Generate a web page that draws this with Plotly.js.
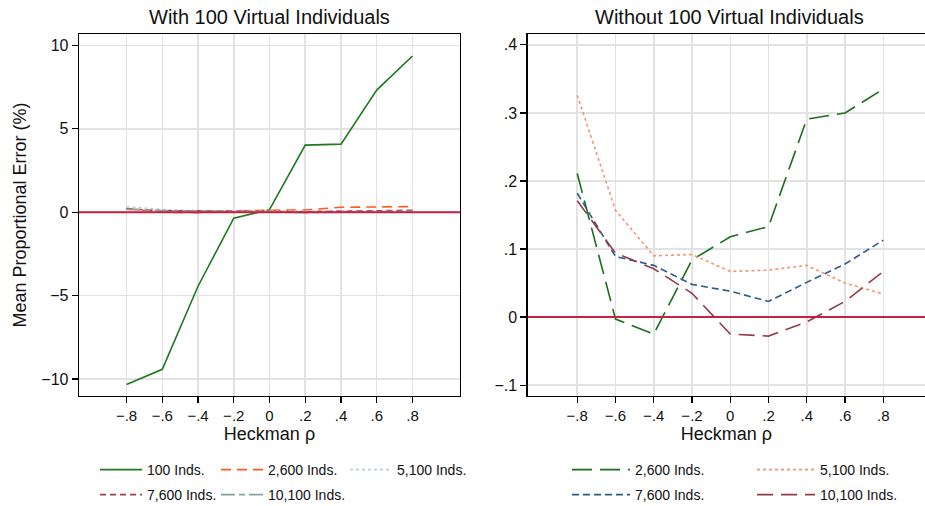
<!DOCTYPE html>
<html>
<head>
<meta charset="utf-8">
<script src="https://cdn.plot.ly/plotly-3.0.1.min.js"></script>
<style>html,body{margin:0;padding:0;background:#fff;}#chart{width:925px;height:506px;}</style>
</head>
<body>
<div id="chart"></div>
<script>
// Heckman rho values (x axis)
const rho = [-0.8, -0.6, -0.4, -0.2, 0, 0.2, 0.4, 0.6, 0.8];
const xTickVals = [-0.8, -0.6, -0.4, -0.2, 0, 0.2, 0.4, 0.6, 0.8];
const xTickText = ['\u2212.8', '\u2212.6', '\u2212.4', '\u2212.2', '0', '.2', '.4', '.6', '.8'];

// Mean proportional error (%) by sample size
const inds100   = [-10.33, -9.42, -4.44, -0.36, 0.15, 4.02, 4.08, 7.32, 9.36];
const inds2600  = [0.211, -0.003, -0.025, 0.084, 0.118, 0.133, 0.291, 0.300, 0.335];
const inds5100  = [0.326, 0.157, 0.090, 0.092, 0.067, 0.069, 0.076, 0.050, 0.034];
const inds7600  = [0.182, 0.089, 0.076, 0.048, 0.038, 0.023, 0.051, 0.078, 0.113];
const inds10100 = [0.171, 0.094, 0.071, 0.035, -0.025, -0.028, -0.007, 0.023, 0.067];

const leftYTickVals = [-10, -5, 0, 5, 10];
const leftYTickText = ['\u221210', '\u22125', '0', '5', '10'];
const rightYTickVals = [-0.1, 0, 0.1, 0.2, 0.3, 0.4];
const rightYTickText = ['\u2212.1', '0', '.1', '.2', '.3', '.4'];

const seriesNames = ['100 Inds.', '2,600 Inds.', '5,100 Inds.', '7,600 Inds.', '10,100 Inds.'];

const FONT = 'Liberation Sans, Arial, sans-serif';

function tr(y, name, color, dash, xa, ya, legend, lw) {
  const t = {x: rho, y: y, name: name, type: 'scatter', mode: 'lines',
    line: {color: color, width: 1.6, dash: dash}, xaxis: xa, yaxis: ya, legend: legend,
    hoverinfo: 'skip'};
  if (lw) t.legendwidth = lw;
  return t;
}

const traces = [
  tr(inds100,   seriesNames[0], '#1d7a1d', 'solid', 'x', 'y', 'legend', 64),
  tr(inds2600,  seriesNames[1], '#ff5a1a', '10px,6px', 'x', 'y', 'legend', 72),
  tr(inds5100,  seriesNames[2], '#b9cde0', 'dot', 'x', 'y', 'legend', 90),
  tr(inds7600,  seriesNames[3], '#a0404e', '6px,4px', 'x', 'y', 'legend2', 64),
  tr(inds10100, seriesNames[4], '#7fa39a', '14px,4px,6px,4px', 'x', 'y', 'legend2', 90),
  tr(inds2600,  seriesNames[1], '#1a6e1a', '20px,8px', 'x2', 'y2', 'legend3'),
  tr(inds5100,  seriesNames[2], '#fb9070', 'dot', 'x2', 'y2', 'legend3'),
  tr(inds7600,  seriesNames[3], '#2c5b8a', '7px,4px', 'x2', 'y2', 'legend4'),
  tr(inds10100, seriesNames[4], '#963a46', '16px,8px', 'x2', 'y2', 'legend4')
];

const W = 925, H = 506;
const yDom = [1 - 396 / H, 1 - 34 / H];

const axBase = {
  showline: true, linecolor: '#000', linewidth: 1.3, mirror: true,
  showgrid: true, gridcolor: '#e2e2e2', gridwidth: 1.5, zeroline: false,
  ticks: 'outside', ticklen: 6, tickwidth: 1.2, tickcolor: '#000',
  tickfont: {family: FONT, size: 15, color: '#111'}, fixedrange: true
};
const yTickFont = {family: FONT, size: 16, color: '#111'};
const axTitleFont = {family: FONT, size: 18, color: '#111'};

function legendDef(x, y, itemw, entryw) {
  return {orientation: 'h', x: x, y: y, xanchor: 'left', yanchor: 'middle',
    xref: 'paper', yref: 'paper', itemwidth: itemw, entrywidth: entryw,
    font: {family: FONT, size: 14, color: '#111'}, bgcolor: 'rgba(0,0,0,0)',
    borderwidth: 0, itemclick: false, itemdoubleclick: false, tracegroupgap: 0};
}

const layout = {
  width: W, height: H,
  margin: {l: 0, r: 0, t: 0, b: 0, autoexpand: false},
  paper_bgcolor: '#fff', plot_bgcolor: '#fff',
  font: {family: FONT, color: '#111'},
  showlegend: true,
  xaxis: Object.assign({}, axBase, {
    domain: [79 / W, 460 / W], range: [-1.066, 1.066], anchor: 'y',
    tickvals: xTickVals, ticktext: xTickText,
    title: {text: 'Heckman \u03c1', font: axTitleFont, standoff: 0}
  }),
  yaxis: Object.assign({}, axBase, {
    domain: yDom, range: [-11.02, 10.68], anchor: 'x',
    tickvals: leftYTickVals, ticktext: leftYTickText, tickfont: yTickFont,
    title: {text: 'Mean Proportional Error (%)', font: axTitleFont, standoff: 10}
  }),
  xaxis2: Object.assign({}, axBase, {
    domain: [527.7 / W, 1], range: [-1.059, 1.018], anchor: 'y2',
    tickvals: xTickVals, ticktext: xTickText,
    title: {text: 'Heckman \u03c1', font: axTitleFont, standoff: 0}
  }),
  yaxis2: Object.assign({}, axBase, {
    domain: yDom, range: [-0.116, 0.416], anchor: 'x2',
    tickvals: rightYTickVals, ticktext: rightYTickText, tickfont: yTickFont
  }),
  shapes: [
    {type: 'line', xref: 'x domain', yref: 'y', x0: 0, x1: 1, y0: 0, y1: 0,
      line: {color: '#c8203f', width: 2}, layer: 'above'},
    {type: 'line', xref: 'x2 domain', yref: 'y2', x0: 0, x1: 1, y0: 0, y1: 0,
      line: {color: '#c8203f', width: 2}, layer: 'above'}
  ],
  annotations: [
    {text: 'With 100 Virtual Individuals', xref: 'paper', yref: 'paper',
      x: 269.5 / W, y: 1 - 17 / H, xanchor: 'center', yanchor: 'middle', showarrow: false,
      font: {family: FONT, size: 20, color: '#111'}},
    {text: 'Without 100 Virtual Individuals', xref: 'paper', yref: 'paper',
      x: 729.5 / W, y: 1 - 17 / H, xanchor: 'center', yanchor: 'middle', showarrow: false,
      font: {family: FONT, size: 20, color: '#111'}}
  ],
  legend: legendDef(95 / W, 1 - 470 / H, 42, 65),
  legend2: legendDef(95 / W, 1 - 495 / H, 42, 65),
  legend3: legendDef(567 / W, 1 - 470 / H, 58, 112),
  legend4: legendDef(567 / W, 1 - 495 / H, 58, 112)
};

Plotly.newPlot('chart', traces, layout, {displayModeBar: false, staticPlot: true});
</script>
</body>
</html>
